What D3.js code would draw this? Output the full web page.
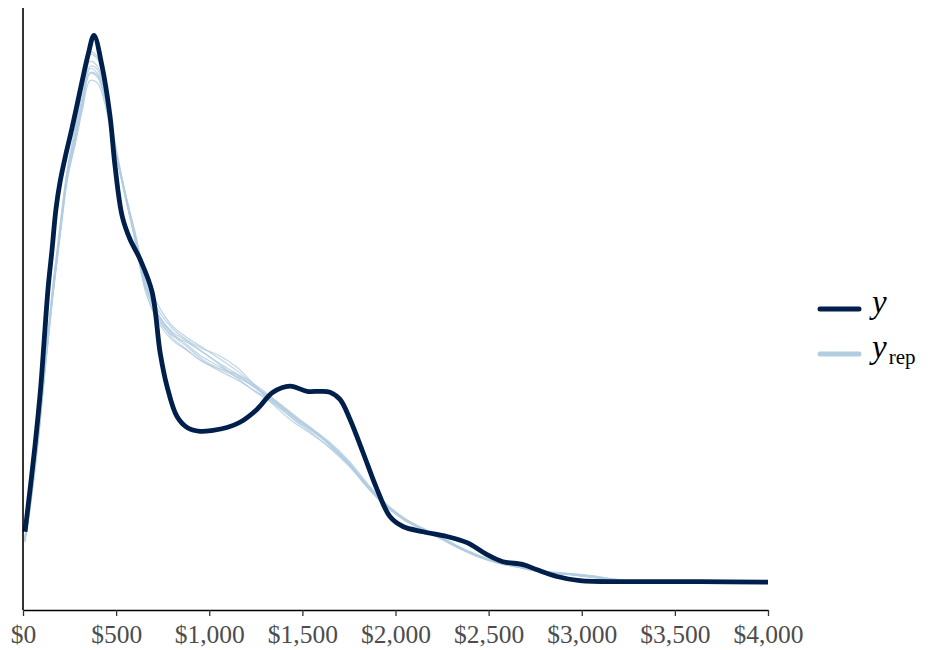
<!DOCTYPE html>
<html><head><meta charset="utf-8">
<script src="https://cdn.jsdelivr.net/npm/d3@7/dist/d3.min.js"></script>
<style>body{margin:0;background:#fff}svg{display:block}</style>
</head><body><svg id="chart" width="930" height="650"></svg>
<script>
// observed density (y), density ×1e-4 per dollar
const yX = [11, 38, 64, 95, 112, 135, 156, 177, 199, 230, 263, 317, 350, 381, 424, 467, 494, 532, 574, 628, 693, 736, 773, 827, 881, 950, 1020, 1095, 1165, 1256, 1342, 1434, 1525, 1595, 1648, 1702, 1756, 1825, 1901, 1970, 2040, 2148, 2276, 2384, 2491, 2577, 2685, 2760, 2867, 2990, 3259, 3635, 4000];
const yD = [1.07, 1.96, 2.86, 4.10, 5.00, 6.20, 7.00, 7.85, 8.42, 9.00, 9.55, 10.53, 11.1, 11.5, 10.86, 9.81, 8.76, 7.71, 7.22, 6.80, 6.11, 4.84, 4.13, 3.49, 3.26, 3.18, 3.2, 3.26, 3.37, 3.64, 4.0, 4.13, 4.02, 4.02, 4.0, 3.85, 3.43, 2.74, 1.96, 1.39, 1.18, 1.07, 0.97, 0.84, 0.59, 0.44, 0.38, 0.27, 0.13, 0.04, 0.02, 0.02, 0.01];

// replicated densities (y_rep) on a common grid
const repX = [10, 40, 80, 120, 160, 200, 240, 280, 320, 360, 400, 440, 480, 540, 600, 660, 730, 800, 880, 960, 1050, 1150, 1250, 1350, 1450, 1550, 1650, 1750, 1850, 1950, 2050, 2150, 2250, 2350, 2450, 2550, 2650, 2750, 2850, 2950, 3050, 3150, 3250, 3400, 3600, 3800, 4000];
const rep1 = [0.90, 1.70, 3.00, 4.60, 6.10, 7.40, 8.60, 9.30, 10.15, 10.80, 10.70, 10.20, 9.40, 8.30, 7.30, 6.20, 5.60, 5.25, 5.00, 4.75, 4.55, 4.35, 4.08, 3.80, 3.48, 3.20, 2.88, 2.50, 2.02, 1.62, 1.33, 1.12, 0.93, 0.72, 0.55, 0.42, 0.34, 0.25, 0.20, 0.17, 0.13, 0.07, 0.03, 0.015, 0.01, 0.005, 0.0];
const rep2 = [0.95, 1.80, 3.10, 4.70, 6.20, 7.50, 8.70, 9.50, 10.40, 11.10, 11.00, 10.40, 9.50, 8.30, 7.20, 6.10, 5.50, 5.20, 5.05, 4.85, 4.60, 4.30, 4.00, 3.75, 3.45, 3.18, 2.90, 2.52, 2.05, 1.64, 1.32, 1.10, 0.90, 0.70, 0.54, 0.43, 0.35, 0.27, 0.21, 0.16, 0.11, 0.06, 0.03, 0.012, 0.008, 0.004, 0.0];
const rep3 = [0.85, 1.60, 2.90, 4.50, 6.00, 7.30, 8.50, 9.20, 9.95, 10.55, 10.50, 10.05, 9.30, 8.30, 7.40, 6.40, 5.80, 5.40, 5.15, 4.95, 4.72, 4.45, 4.12, 3.78, 3.44, 3.14, 2.82, 2.45, 2.00, 1.60, 1.30, 1.10, 0.92, 0.73, 0.57, 0.44, 0.35, 0.26, 0.21, 0.18, 0.14, 0.08, 0.04, 0.015, 0.01, 0.005, 0.0];
const rep4 = [0.92, 1.75, 3.05, 4.65, 6.15, 7.45, 8.65, 9.40, 10.25, 10.95, 10.85, 10.30, 9.45, 8.25, 7.25, 6.20, 5.55, 5.15, 4.90, 4.65, 4.50, 4.38, 4.15, 3.85, 3.52, 3.22, 2.88, 2.48, 2.00, 1.60, 1.34, 1.14, 0.95, 0.74, 0.56, 0.42, 0.33, 0.24, 0.19, 0.17, 0.14, 0.08, 0.03, 0.012, 0.008, 0.004, 0.0];
const rep5 = [0.88, 1.65, 2.95, 4.55, 6.05, 7.35, 8.55, 9.25, 10.05, 10.70, 10.62, 10.15, 9.38, 8.35, 7.35, 6.30, 5.70, 5.35, 5.10, 4.92, 4.78, 4.52, 4.12, 3.72, 3.38, 3.12, 2.84, 2.48, 2.04, 1.64, 1.34, 1.12, 0.92, 0.71, 0.54, 0.41, 0.33, 0.26, 0.22, 0.19, 0.14, 0.07, 0.03, 0.014, 0.009, 0.004, 0.0];
const rep6 = [0.95, 1.78, 3.08, 4.72, 6.25, 7.55, 8.75, 9.55, 10.45, 11.15, 11.05, 10.45, 9.55, 8.35, 7.25, 6.10, 5.45, 5.10, 4.88, 4.66, 4.46, 4.26, 4.02, 3.78, 3.50, 3.24, 2.94, 2.56, 2.08, 1.66, 1.35, 1.12, 0.92, 0.71, 0.53, 0.41, 0.33, 0.26, 0.21, 0.17, 0.12, 0.06, 0.025, 0.012, 0.008, 0.004, 0.0];
const rep7 = [0.90, 1.72, 3.02, 4.62, 6.12, 7.42, 8.62, 9.35, 10.15, 10.85, 10.78, 10.25, 9.42, 8.32, 7.32, 6.25, 5.62, 5.28, 5.08, 4.86, 4.62, 4.38, 4.10, 3.82, 3.50, 3.22, 2.90, 2.52, 2.03, 1.62, 1.32, 1.11, 0.93, 0.73, 0.56, 0.43, 0.34, 0.25, 0.20, 0.18, 0.15, 0.09, 0.04, 0.016, 0.01, 0.005, 0.0];
const rep8 = [0.87, 1.66, 2.96, 4.56, 6.06, 7.36, 8.58, 9.28, 10.05, 10.72, 10.66, 10.18, 9.36, 8.28, 7.30, 6.22, 5.58, 5.22, 4.96, 4.70, 4.50, 4.32, 4.10, 3.84, 3.54, 3.24, 2.90, 2.50, 2.00, 1.60, 1.33, 1.13, 0.94, 0.73, 0.55, 0.42, 0.34, 0.25, 0.20, 0.16, 0.12, 0.07, 0.03, 0.014, 0.009, 0.004, 0.0];
const reps = [rep1, rep2, rep3, rep4, rep5, rep6, rep7, rep8];

const xTicks = [0, 500, 1000, 1500, 2000, 2500, 3000, 3500, 4000];
const legendLabels = ["y", "y_rep"];

(function () {
const darkCol = "#011f4b", lightCol = "#b3cde0";
const serif = "Liberation Serif, Times New Roman, serif";
const svg = d3.select("#chart");
const mLeft = 23, mRight = 768, mTop = 8, mBottom = 610;

const x = d3.scaleLinear().domain([0, 4000]).range([mLeft, mRight]);
const maxD = d3.max([d3.max(yD), ...reps.map(r => d3.max(r))]);
const pad = 0.05 * maxD;
const y = d3.scaleLinear().domain([-pad, maxD + pad]).range([mBottom, mTop]);

const line = d3.line().x(d => x(d[0])).y(d => y(d[1])).curve(d3.curveCatmullRom.alpha(0.5));

// replicates
svg.append("g").selectAll("path").data(reps).join("path")
  .attr("d", r => line(r.map((v, i) => [repX[i], v])))
  .attr("fill", "none").attr("stroke", lightCol).attr("stroke-opacity", 0.85).attr("stroke-width", 1.2);

// observed
svg.append("path")
  .attr("d", line(yD.map((v, i) => [yX[i], v])))
  .attr("fill", "none").attr("stroke", darkCol).attr("stroke-width", 4.8).attr("stroke-linejoin", "round");

// x axis
const xAxis = d3.axisBottom(x).tickValues(xTicks)
  .tickFormat(d => "$" + d3.format(",")(d)).tickSize(6).tickSizeOuter(0);
const gx = svg.append("g").attr("transform", `translate(0,${mBottom})`).call(xAxis);
gx.select(".domain").attr("stroke", "#000").attr("stroke-width", 1.6);
gx.selectAll(".tick line").attr("stroke", "#333").attr("stroke-width", 1.3);
gx.selectAll(".tick text").attr("font-family", serif)
  .attr("font-size", 25.5).attr("fill", "#4d4d4d").attr("dy", 0).attr("y", 33);

// y axis line (no ticks)
svg.append("line").attr("x1", mLeft).attr("x2", mLeft).attr("y1", mTop).attr("y2", mBottom)
  .attr("stroke", "#000").attr("stroke-width", 1.6);

// legend
const lg = svg.append("g").attr("font-family", serif);
const rows = [{lab: legendLabels[0], col: darkCol, yy: 309}, {lab: legendLabels[1], col: lightCol, yy: 354}];
rows.forEach(r => {
  lg.append("line").attr("x1", 820).attr("x2", 859).attr("y1", r.yy).attr("y2", r.yy)
    .attr("stroke", r.col).attr("stroke-width", 5).attr("stroke-linecap", "round");
  const t = lg.append("text").attr("x", 872).attr("y", r.yy + 4).attr("font-size", 33).attr("fill", "#000");
  const parts = r.lab.split("_");
  t.append("tspan").attr("font-style", "italic").text(parts[0]);
  if (parts[1]) t.append("tspan").attr("font-size", 21).attr("dy", 6).attr("dx", 2).text(parts[1]);
});
})();
</script></body></html>
